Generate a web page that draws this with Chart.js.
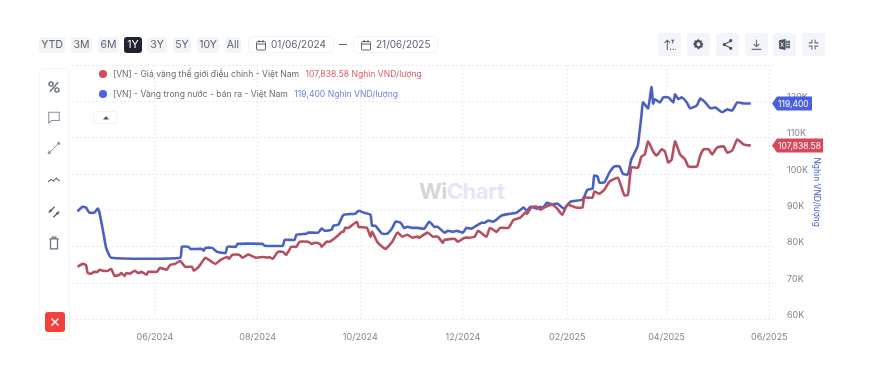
<!DOCTYPE html>
<html lang="vi">
<head>
<meta charset="utf-8">
<title>WiChart</title>
<script src="https://cdn.jsdelivr.net/npm/chart.js@4/dist/chart.umd.min.js"></script>
<style>
    html, body { margin: 0; padding: 0; background: #fff; }
    body { width: 871px; height: 370px; position: relative; overflow: hidden; font-family: Inter, "Noto Sans", sans-serif; filter: blur(0.4px); }
    #fxChart { position: absolute; left: 0; top: 0; z-index: 1; }
    .abs { position: absolute; }
    .range { top: 37px; height: 16px; line-height: 16px; background: #f3f4f6; border-radius: 3px; text-align: center; font-size: 10.5px; color: #5b6370; z-index: 2; }
    .range.active { background: #1f2430; color: #fff; }
    .datebox { top: 36px; height: 17px; line-height: 17px; border: 1px solid #f3f4f6; border-radius: 3px; font-size: 10px; color: #5b6370; box-sizing: border-box; z-index: 2; }
    .datebox svg { position: absolute; left: 6px; top: 2px; }
    .datebox span { position: absolute; left: 22px; top: -1px; }
    .topbtn { top: 33px; width: 23px; height: 23px; background: #f3f5fa; border-radius: 3px; z-index: 2; }
    .topbtn svg { position: absolute; left: 5px; top: 5px; }
    .panel { left: 39px; top: 68px; width: 31px; height: 272px; border: 1px solid #f4f5f7; border-radius: 5px; box-sizing: border-box; background: #fff; z-index: 2; }
    .tool { left: 47px; width: 14px; height: 14px; z-index: 3; }
    .legend-row { left: 113px; font-size: 8.6px; color: #666b73; white-space: nowrap; z-index: 2; }
    .legend-dot { left: 99px; width: 8px; height: 8px; border-radius: 50%; z-index: 2; }
    .mark { left: 419px; top: 178px; font-size: 22px; font-weight: 700; letter-spacing: -0.5px; white-space: nowrap; z-index: 0; }
</style>
</head>
<body>

<div class="abs mark"><span style="color:#d6d6da">Wi</span><span style="color:#e3e7f5">Chart</span></div>

<canvas id="fxChart" width="871" height="370"></canvas>

<div class="abs range" style="left:39px;width:26px">YTD</div>
<div class="abs range" style="left:71px;width:21px">3M</div>
<div class="abs range" style="left:98px;width:21px">6M</div>
<div class="abs range active" style="left:124px;width:18px">1Y</div>
<div class="abs range" style="left:147px;width:20px">3Y</div>
<div class="abs range" style="left:173px;width:18px">5Y</div>
<div class="abs range" style="left:197px;width:22px">10Y</div>
<div class="abs range" style="left:225px;width:16px">All</div>

<div class="abs datebox" style="left:248px;width:86px">
    <svg width="12" height="12" viewBox="0 0 24 24" fill="none" stroke="#5b6370" stroke-width="2"><rect x="3" y="5" width="18" height="17" rx="2"/><path d="M3 10h18M8 2v5M16 2v5"/></svg>
    <span>01/06/2024</span>
</div>
<div class="abs" style="left:339px;top:44px;width:8px;height:1px;background:#5b6370;z-index:2"></div>
<div class="abs datebox" style="left:353px;width:85px">
    <svg width="12" height="12" viewBox="0 0 24 24" fill="none" stroke="#5b6370" stroke-width="2"><rect x="3" y="5" width="18" height="17" rx="2"/><path d="M3 10h18M8 2v5M16 2v5"/></svg>
    <span>21/06/2025</span>
</div>

<div class="abs topbtn" style="left:658px"><svg width="13" height="13" viewBox="0 0 24 24" fill="none" stroke="#5a6474" stroke-width="2"><path d="M8 22V4M3 9l5-5 5 5M13 21h2M18 21h2M22 21h1M16 3l2 3 2-3M18 6v4"/></svg></div>
<div class="abs topbtn" style="left:687px"><svg width="13" height="13" viewBox="0 0 24 24" fill="#4a5361"><path d="M12 2l2.500 2.500h3.500v3.500L21 11l-1.500 3v3.500h-3.500L12 21l-4-3.500H4.500V14L2 11l2.500-3V4.500H8zM12 8a3.500 3.500 0 100 7 3.500 3.500 0 000-7z"/></svg></div>
<div class="abs topbtn" style="left:716px"><svg width="13" height="13" viewBox="0 0 24 24" fill="#4a5361" stroke="#4a5361" stroke-width="2"><circle cx="18" cy="5" r="2"/><circle cx="6" cy="12" r="2"/><circle cx="18" cy="19" r="2"/><path d="M7 11l10-5M7 13l10 5"/></svg></div>
<div class="abs topbtn" style="left:745px"><svg width="13" height="13" viewBox="0 0 24 24" fill="none" stroke="#6a7382" stroke-width="2.200"><path d="M12 3v12M7 11l5 5 5-5M3 21h18"/></svg></div>
<div class="abs topbtn" style="left:773px"><svg width="13" height="13" viewBox="0 0 24 24" fill="#4a5361"><path d="M2 4l12-2v20L2 20zM15 5h7v14h-7z"/><path d="M5 8l5 8M10 8l-5 8" stroke="#fff" stroke-width="1.500"/><path d="M18 5v14M15 10h7M15 14h7" stroke="#f3f5fa" stroke-width="1"/></svg></div>
<div class="abs topbtn" style="left:802px"><svg width="13" height="13" viewBox="0 0 24 24" fill="none" stroke="#6a7382" stroke-width="2.200"><path d="M9 3v6H3M15 3v6h6M9 21v-6H3M15 21v-6h6"/></svg></div>

<div class="abs panel"></div>
<svg class="abs tool" style="top:80px" viewBox="0 0 24 24" fill="none" stroke="#6a7382" stroke-width="2.500"><circle cx="7" cy="7" r="3.500"/><circle cx="17" cy="17" r="3.500"/><path d="M19 4L5 20"/></svg>
<svg class="abs tool" style="top:110px" viewBox="0 0 24 24" fill="none" stroke="#8a92a0" stroke-width="1.800"><path d="M3 4h18v14H8l-5 4z"/></svg>
<svg class="abs tool" style="top:141px" viewBox="0 0 24 24" fill="#8a92a0" stroke="#8a92a0" stroke-width="1.500"><circle cx="4" cy="20" r="2"/><circle cx="20" cy="4" r="2"/><path d="M4 20L20 4"/></svg>
<svg class="abs tool" style="top:173px" viewBox="0 0 24 24" fill="none" stroke="#5a6474" stroke-width="1.800"><path d="M2 15l5-4 4 3 5-5 6 5"/></svg>
<svg class="abs tool" style="top:205px" viewBox="0 0 24 24" fill="none" stroke="#4a5361" stroke-width="2"><path d="M3 13L13 3M11 21L21 11"/><circle cx="6" cy="10" r="1.200"/><circle cx="18" cy="14" r="1.200"/></svg>
<svg class="abs tool" style="top:236px" viewBox="0 0 24 24" fill="none" stroke="#6a7382" stroke-width="2.200"><path d="M4 5h16M9 5V2h6v3M6 5v17h12V5"/></svg>
<div class="abs" style="left:45px;top:312px;width:20px;height:20px;background:#f2413d;border-radius:3px;z-index:3">
    <svg width="20" height="20" viewBox="0 0 20 20" fill="none" stroke="#fff" stroke-width="1.500"><path d="M6.500 6.500l7 7M13.500 6.500l-7 7"/></svg>
</div>

<div class="abs legend-dot" style="top:70px;background:#d9495a"></div>
<div class="abs legend-row" style="top:69px">[VN] - Giá vàng thế giới điều chỉnh - Việt Nam <span style="color:#d9606f;margin-left:4px">107,838.58 Nghìn VND/lượng</span></div>
<div class="abs legend-dot" style="top:90px;background:#4a63e8"></div>
<div class="abs legend-row" style="top:89px">[VN] - Vàng trong nước - bán ra - Việt Nam <span style="color:#6f82ea;margin-left:4px">119,400 Nghìn VND/lượng</span></div>
<div class="abs" style="left:93px;top:111px;width:25px;height:13px;border:1px solid #f0f1f4;border-radius:3px;box-sizing:border-box;background:#fff;z-index:2">
    <svg class="abs" style="left:8px;top:3px" width="8" height="6" viewBox="0 0 8 6" fill="#4b5563"><path d="M4 1l3 3.500H1z"/></svg>
</div>

<script>
// Data (days counted from 01/06/2024, thousand VND)
const worldDays = [-46, -43, -41, -40, -38, -36, -34, -33, -31, -28, -26, -24, -21, -20, -18, -17, -15, -12, -10, -8, -5, -4, 1, 3, 7, 9, 12, 15, 18, 22, 23, 26, 30, 33, 36, 39, 43, 44, 46, 50, 52, 55, 56, 60, 64, 67, 68, 70, 73, 76, 78, 81, 84, 86, 91, 93, 95, 98, 99, 102, 104, 108, 111, 112, 113, 115, 120, 121, 126, 128, 129, 132, 135, 137, 141, 144, 147, 150, 153, 156, 157, 162, 165, 168, 171, 172, 178, 180, 184, 187, 190, 192, 197, 199, 203, 205, 210, 213, 217, 220, 221, 224, 227, 229, 232, 236, 239, 242, 245, 250, 254, 255, 260, 261, 264, 267, 270, 275, 278, 279, 281, 283, 287, 289, 291, 293, 296, 298, 301, 303, 305, 307, 309, 312, 315, 317, 322, 324, 326, 329, 331, 334, 338, 340, 343, 346, 350, 354];
const worldGold = [74.5, 75.3, 75, 72.8, 72.6, 73.1, 73.1, 73.7, 73.4, 73.4, 73.9, 72, 72.3, 72.8, 72, 72.8, 72.6, 73.4, 72.8, 73.1, 72.3, 73.1, 73.1, 74.2, 73.7, 75, 75.3, 76.1, 74.5, 74.5, 73.4, 74.5, 77, 76.1, 75.3, 76.4, 77.2, 76.7, 77.8, 77.8, 77, 77.8, 77.8, 77, 77.2, 77, 77.2, 76.7, 78.6, 78.6, 77.8, 80, 80, 81.4, 81.4, 80.8, 81.1, 80.8, 80, 81.4, 81.4, 82.8, 84.1, 84.1, 85.2, 85.2, 86.9, 85.5, 85.2, 82.8, 84.1, 81.4, 80, 79.4, 81.4, 83.9, 82.8, 83.3, 82.5, 82.8, 82.5, 83.9, 82.8, 82.8, 81.1, 81.9, 82.2, 81.4, 82.5, 82.5, 82.8, 84.4, 82.8, 85.2, 84.1, 85.2, 85.2, 87.4, 88, 89.4, 89.1, 91, 91, 90.2, 91, 91.6, 90.5, 88.8, 91.6, 90.8, 90.8, 93.5, 93.5, 95.2, 94.6, 95.7, 97.9, 99, 95.2, 94.1, 94.3, 101.8, 101.8, 104.8, 105.4, 109, 106.2, 105.1, 106.8, 106.2, 103.2, 104, 109, 105.4, 104, 102.1, 102.1, 105.1, 106.8, 106.8, 105.4, 107.3, 107.6, 105.9, 106.5, 109.5, 108.1, 107.84];

const localDays = [-46, -43, -41, -39, -36, -34, -33, -31, -29, -26, 15, 16, 20, 21, 28, 29, 30, 34, 37, 42, 43, 48, 49, 64, 65, 76, 77, 83, 84, 90, 91, 97, 99, 101, 105, 106, 109, 112, 119, 121, 124, 128, 129, 131, 132, 135, 138, 141, 143, 146, 148, 150, 153, 156, 160, 163, 166, 168, 172, 174, 177, 179, 183, 185, 188, 191, 194, 196, 198, 201, 206, 211, 215, 219, 221, 223, 227, 229, 230, 233, 236, 239, 243, 247, 254, 257, 260, 261, 263, 264, 267, 270, 273, 276, 278, 281, 283, 286, 287, 289, 290, 293, 295, 296, 297, 300, 302, 305, 308, 309, 311, 313, 316, 318, 322, 324, 327, 330, 333, 337, 340, 343, 346, 350, 354];
const localGold = [89.8, 91, 90.8, 89.4, 89.4, 90.5, 89.4, 84.7, 79.7, 77, 77, 80, 80, 79.4, 79.4, 78.9, 79.7, 79.7, 78.6, 78.3, 80, 80, 80.8, 80.8, 80.3, 80.3, 81.9, 81.9, 83.3, 83.6, 83.9, 83.9, 85, 84.4, 84.7, 85.8, 86.1, 88.8, 89.1, 89.9, 89.4, 88.8, 85.8, 85.8, 85.2, 83.6, 83.6, 85.2, 86.9, 86.6, 85.2, 85.5, 85.2, 85.2, 85, 86.9, 85.5, 85.5, 83.9, 84.4, 84.1, 84.4, 83.9, 85.2, 85, 85.8, 86.6, 86.6, 87.2, 86.9, 88.6, 89.1, 89.4, 90.8, 89.9, 91, 90.5, 91, 90.5, 92.1, 91.6, 91.9, 90.5, 92.4, 93, 95.7, 96, 99.6, 99.3, 97.7, 97.7, 100.4, 102.1, 102.1, 100.1, 99.9, 104, 106.8, 108.1, 115.9, 119.7, 118.1, 123.9, 119.4, 120.6, 119.7, 121.1, 121.1, 119.7, 121.9, 120.6, 121.1, 119.7, 118.1, 118.9, 120.8, 119.7, 118.1, 118.3, 117, 117.8, 117.5, 119.7, 119.4, 119.4];

const tickDays = [0, 61, 122, 183, 245, 304, 365];
const tickLabels = ["06/2024", "08/2024", "10/2024", "12/2024", "02/2025", "04/2025", "06/2025"];

const worldLast = "107,838.58";
const localLast = "119,400";

function toPoints(days, values) {
    return days.map((d, i) => ({ x: d, y: values[i] }));
}

// Price tags at the end of each series
const priceTags = {
    id: "priceTags",
    afterDraw(chart) {
        const c = chart.ctx;
        const yScale = chart.scales.y;
        const tags = [
            { text: localLast, value: localGold[localGold.length - 1], color: "#4a5fe0", w: 34 },
            { text: worldLast, value: worldGold[worldGold.length - 1], color: "#d8475a", w: 45 }
        ];
        tags.forEach(tag => {
            const y = yScale.getPixelForValue(tag.value);
            const left = chart.chartArea.right + 2;
            c.save();
            c.fillStyle = tag.color;
            c.beginPath();
            c.moveTo(left - 5, y);
            c.lineTo(left, y - 7);
            c.lineTo(left + tag.w + 1, y - 7);
            c.lineTo(left + tag.w + 1, y + 7);
            c.lineTo(left, y + 7);
            c.closePath();
            c.fill();
            c.fillStyle = "#fff";
            c.font = "8.5px Inter";
            c.textBaseline = "middle";
            c.textAlign = "left";
            c.fillText(tag.text, left + 1, y + 0.5);
            c.restore();
        });
    }
};

new Chart(document.getElementById("fxChart"), {
    type: "line",
    data: {
        datasets: [
            {
                label: "[VN] - Giá vàng thế giới điều chỉnh - Việt Nam",
                data: toPoints(worldDays, worldGold),
                borderColor: "#b4505f",
                borderWidth: 2.6
            },
            {
                label: "[VN] - Vàng trong nước - bán ra - Việt Nam",
                data: toPoints(localDays, localGold),
                borderColor: "#4c60c2",
                borderWidth: 2.6
            }
        ]
    },
    options: {
        responsive: false,
        animation: false,
        elements: { point: { radius: 0 }, line: { tension: 0.15 } },
        layout: { padding: { left: 72, top: 65, right: 49, bottom: 0 } },
        plugins: { legend: { display: false }, tooltip: { enabled: false } },
        scales: {
            x: {
                type: "linear",
                min: -49.3,
                max: 368.4,
                afterFit(scale) { scale.height = 50.5; },
                afterBuildTicks(scale) { scale.ticks = tickDays.map(d => ({ value: d })); },
                border: { display: false, dash: [2, 2] },
                grid: { color: "#e9ebef", drawTicks: false },
                ticks: {
                    autoSkip: false,
                    maxRotation: 0,
                    padding: 12,
                    color: "#7f8590",
                    font: { family: "Inter", size: 9 },
                    callback(value) { return tickLabels[tickDays.indexOf(value)]; }
                }
            },
            y: {
                position: "right",
                min: 60,
                max: 130,
                afterFit(scale) { scale.width = 47; },
                border: { display: false, dash: [2, 2] },
                grid: { color: "#e9ebef", drawTicks: false },
                ticks: {
                    stepSize: 10,
                    padding: 12,
                    labelOffset: -4,
                    color: "#7f8590",
                    font: { family: "Inter", size: 9 },
                    callback(value) { return value === 130 ? "" : value + "K"; }
                },
                title: {
                    display: true,
                    text: "Nghìn VND/lượng",
                    color: "#4c60c2",
                    padding: 0,
                    font: { family: "Inter", size: 8.5 }
                }
            }
        }
    },
    plugins: [priceTags]
});
</script>
</body>
</html>
